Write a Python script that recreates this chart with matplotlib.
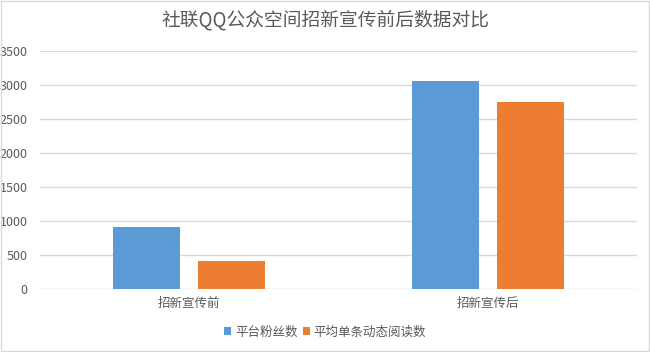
import matplotlib
matplotlib.use("Agg")
import matplotlib.pyplot as plt
from matplotlib.patches import Rectangle
import numpy as np

plt.rcParams['font.family'] = ['Noto Sans CJK SC', 'DejaVu Sans']

categories = ["招新宣传前", "招新宣传后"]
fans = [910, 3060]
reads = [410, 2750]
series_names = ["平台粉丝数", "平均单条动态阅读数"]
yticks = [0, 500, 1000, 1500, 2000, 2500, 3000, 3500]

blue = "#5b9bd5"
orange = "#ed7d31"
txt = "#595959"

fig = plt.figure(figsize=(6.5, 3.52), dpi=100)
ax = fig.add_axes([40/650, 63/352, 597/650, 238/352])

x = np.arange(len(categories))
w = 0.2245
ax.bar(x - 0.142, fans, w, color=blue, label=series_names[0], zorder=3)
ax.bar(x + 0.142, reads, w, color=orange, label=series_names[1], zorder=3)

ax.set_xlim(-0.5, 1.5)
ax.set_ylim(0, 3500)
ax.set_yticks(yticks)
ax.set_xticks(x)
ax.set_xticklabels(categories)
ax.yaxis.grid(True, color="#d9d9d9", linewidth=1, zorder=0)
ax.tick_params(axis="both", length=0, colors=txt, labelsize=9)
ax.tick_params(axis="y", pad=9)
ax.tick_params(axis="x", pad=6)
for s in ax.spines.values():
    s.set_visible(False)

fig.text(0.5, 1 - 20/352, "社联QQ公众空间招新宣传前后数据对比", ha="center", va="center",
         fontsize=13.5, color=txt)

fig.legend(loc="center", bbox_to_anchor=(325/650, 1 - 332/352), ncol=2, frameon=False,
           fontsize=9, handlelength=0.6, handleheight=0.6, handletextpad=0.3,
           columnspacing=0.4, labelcolor=txt)

fig.patches.append(Rectangle((0.001, 0.003), 0.997, 0.994, transform=fig.transFigure,
                             fill=False, edgecolor="#d9d9d9", linewidth=1))

fig.savefig("out.png", dpi=100)
